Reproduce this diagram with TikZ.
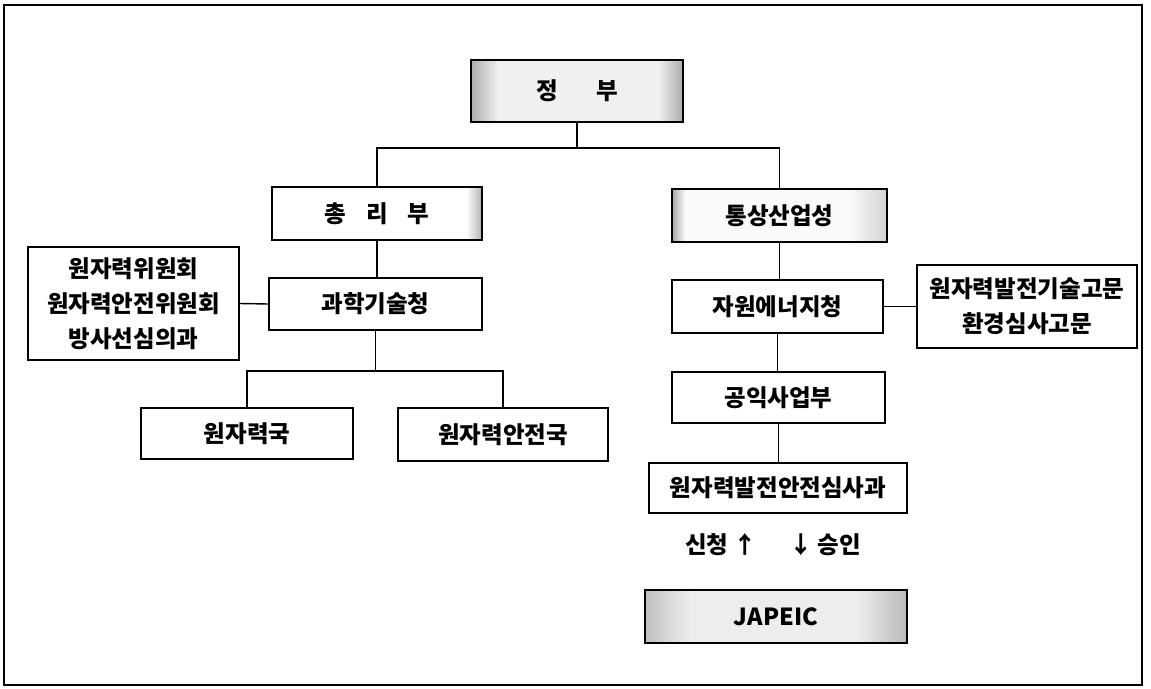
\documentclass[tikz,border=0pt]{standalone}
\usepackage{fontspec}
\setmainfont{Noto Sans CJK KR}
\begin{document}
\begin{tikzpicture}[x=1pt,y=-1pt,
  box/.style={draw, line width=2pt, fill=white, inner sep=0pt,
    font=\fontsize{23.5}{35}\selectfont\bfseries, align=center},
  lbl/.style={inner sep=0pt, font=\fontsize{23.5}{26}\selectfont\bfseries},
  link/.style={line width=1.4pt},
  strips/.style n args={5}{path picture={
    \fill[gray!#1] (path picture bounding box.north west) rectangle (path picture bounding box.south east);
    \shade[left color=gray!#3, right color=gray!#1]
      (path picture bounding box.north west) rectangle ([xshift=#2pt]path picture bounding box.south west);
    \shade[right color=gray!#5, left color=gray!#1]
      ([xshift=-#4pt]path picture bounding box.north east) rectangle (path picture bounding box.south east);}}
]
\useasboundingbox (0,0) rectangle (1151,688);
\draw[line width=2pt] (4,5) rectangle (1142,685);

\node[box, minimum width=212pt, minimum height=62pt, strips={12}{27}{65}{25}{65}] (gov) at (577,91) {정\hspace{38pt}부};
\node[box, minimum width=210pt, minimum height=53pt, strips={0}{1}{0}{16}{60}] (pm) at (377,213.5) {총\hspace{20pt}리\hspace{20pt}부};
\node[box, minimum width=215pt, minimum height=53pt, strips={4}{13}{70}{37}{35}] (miti) at (779.5,215.5) {통상산업성};
\node[box, minimum width=211pt, minimum height=113pt] (aec) at (133.5,303.5) {원자력위원회\\원자력안전위원회\\방사선심의과};
\node[box, minimum width=213pt, minimum height=52pt] (sta) at (375.5,304) {과학기술청};
\node[box, minimum width=211pt, minimum height=53pt] (ane) at (777.5,306.5) {자원에너지청};
\node[box, minimum width=220pt, minimum height=83pt] (adv) at (1027,306.5) {원자력발전기술고문\\환경심사고문};
\node[box, minimum width=212pt, minimum height=51pt] (nab) at (247,433.5) {원자력국};
\node[box, minimum width=210pt, minimum height=53pt] (nsb) at (503,434.5) {원자력안전국};
\node[box, minimum width=213pt, minimum height=51pt] (pub) at (778.5,397.5) {공익사업부};
\node[box, minimum width=258pt, minimum height=50pt] (nps) at (778,488) {원자력발전안전심사과};
\node[lbl, anchor=east] (req) at (757,545) {신청\hspace{5pt}↑};
\node[lbl, anchor=west] (apv) at (789,545) {↓\hspace{5pt}승인};
\node[box, minimum width=262pt, minimum height=53pt, strips={14}{45}{50}{50}{55}] (jap) at (776,616.5) {JAPEIC};

\coordinate (j1) at (577,148);
\draw[link] (gov.south) -- (j1);
\draw[link] (j1) -| (pm.north);
\draw[link] (j1) -| (miti.north);
\draw[link] (pm.south) -- (pm.south |- sta.north);
\draw[link] (aec.east) -- (sta.west);
\draw[link] (sta.south) -- ++(0,40) coordinate (j2);
\draw[link] (j2) -| (nab.north);
\draw[link] (j2) -| (nsb.north);
\draw[link] (miti.south) -- (miti.south |- ane.north);
\draw[link] (ane.east) -- (ane.east -| adv.west);
\draw[link] (ane.south) -- (ane.south |- pub.north);
\draw[link] (pub.south) -- (pub.south |- nps.north);
\end{tikzpicture}
\end{document}
